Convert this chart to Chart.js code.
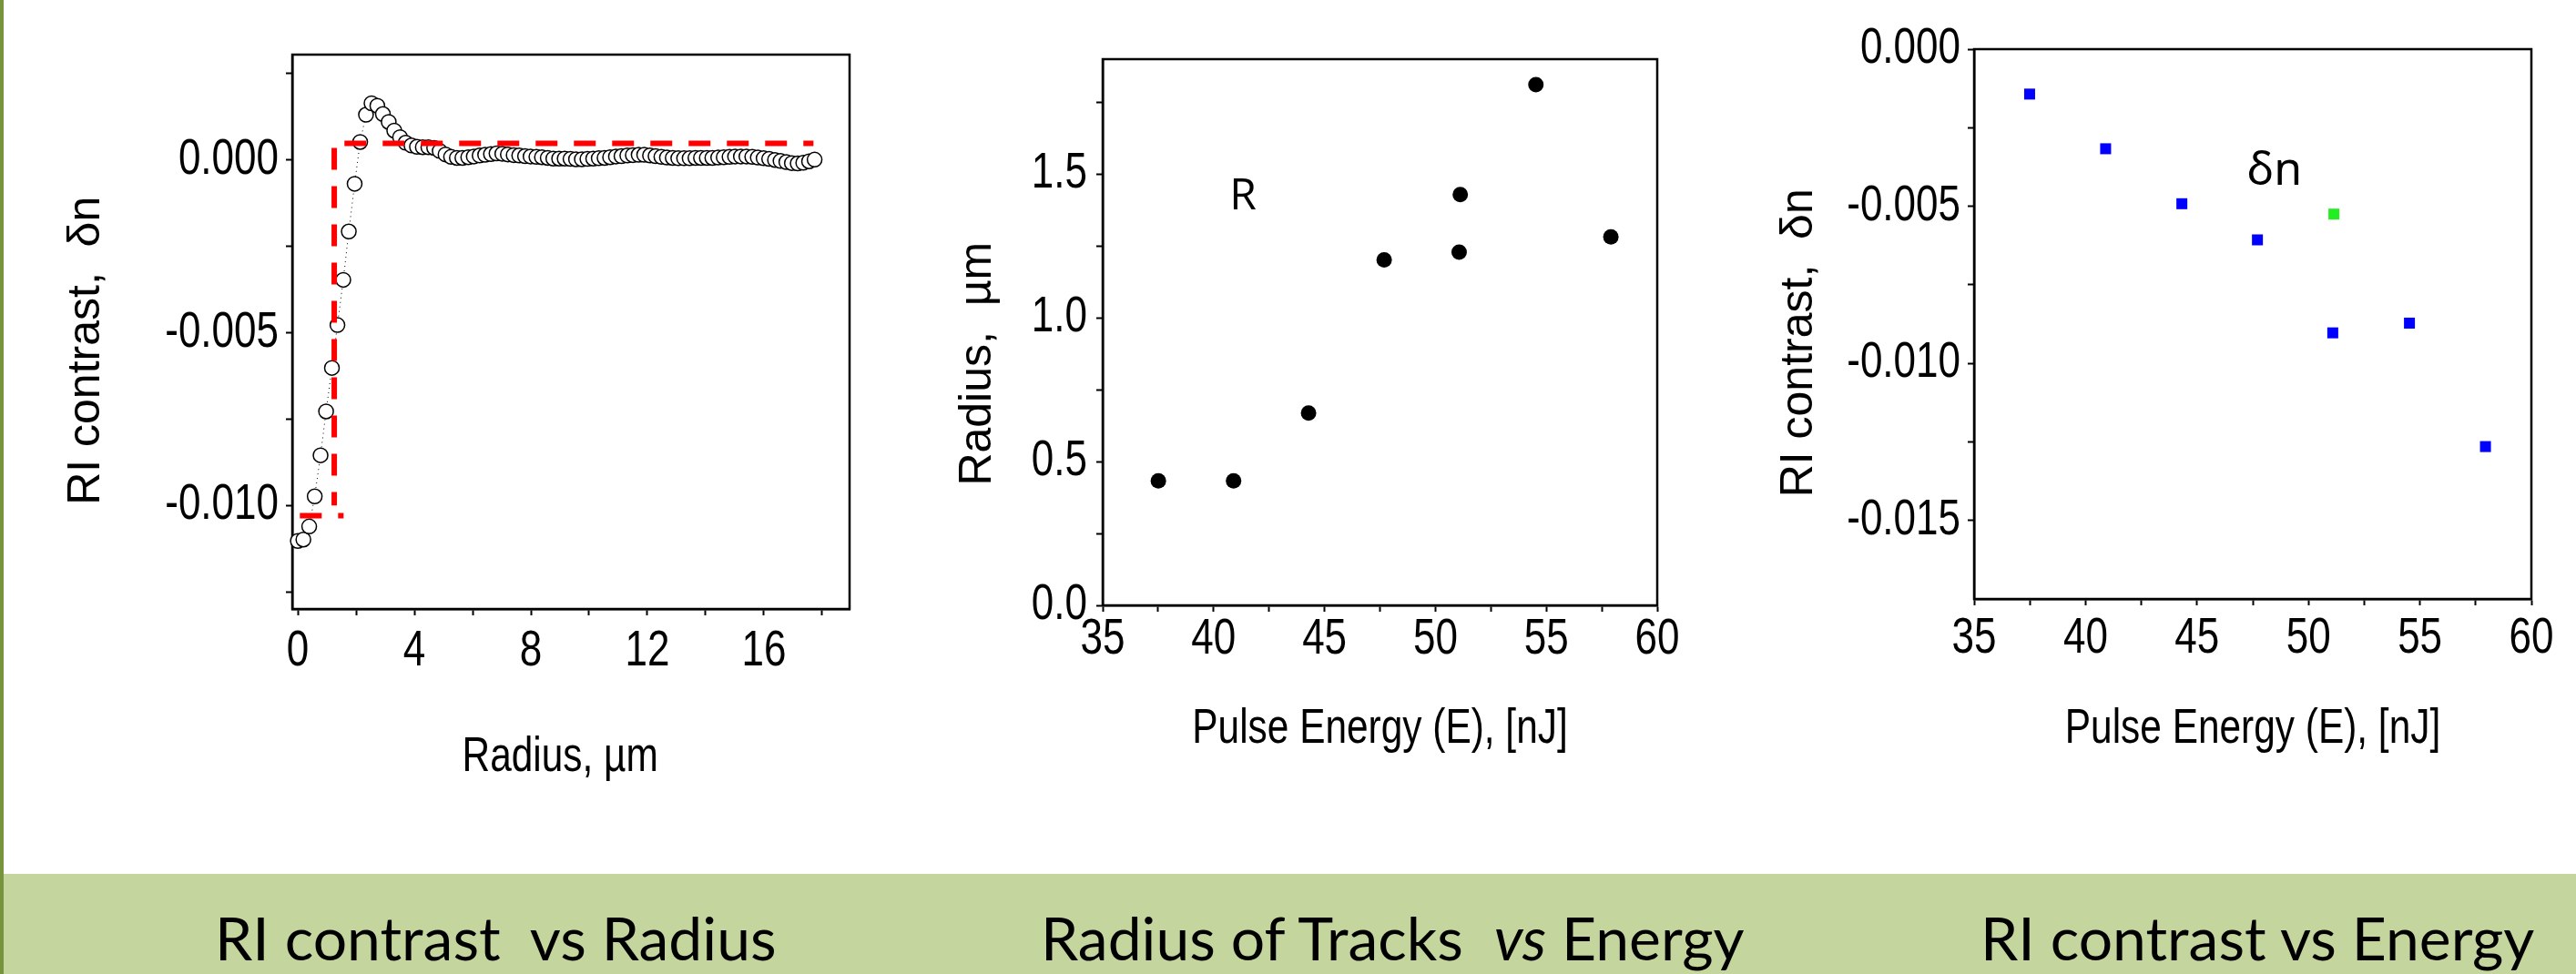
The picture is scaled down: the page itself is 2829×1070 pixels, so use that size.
<!DOCTYPE html>
<html>
<head>
<meta charset="utf-8">
<script src="https://cdn.jsdelivr.net/npm/chart.js@4.4.1/dist/chart.umd.min.js"></script>
<style>
  html, body { margin: 0; padding: 0; background: #fff; }
  body { width: 2829px; height: 1070px; position: relative; overflow: hidden; }
  canvas { position: absolute; top: 0; }
  #c1 { left: 0; }
  #c2 { left: 950px; }
  #c3 { left: 1900px; }
  .band { position: absolute; left: 0; top: 960px; width: 2829px; height: 110px; background: #c4d69e; }
  .edge { position: absolute; left: 0; top: 0; width: 4px; height: 1070px; background: #77933c; }
  .cap { position: absolute; top: 998px; height: 64px; line-height: 64px; font-family: Lato, 'Open Sans', sans-serif;
         font-size: 66px; color: #000; white-space: pre; }
</style>
</head>
<body>
<canvas id="c1" width="950" height="900"></canvas>
<canvas id="c2" width="950" height="900"></canvas>
<canvas id="c3" width="929" height="900"></canvas>
<div class="band"></div>
<div class="edge"></div>
<div class="cap" style="left:236px">RI contrast  vs Radius</div>
<div class="cap" style="left:1143px">Radius of Tracks  <i>vs</i> Energy</div>
<div class="cap" style="left:2175px">RI contrast vs Energy</div>
<script>
// --- RI contrast vs Radius (perfil) ---
const radius1 = [0.00, 0.19, 0.39, 0.58, 0.78, 0.97, 1.17, 1.36, 1.56, 1.75, 1.95, 2.14, 2.34, 2.53, 2.73, 2.92,
  3.12, 3.31, 3.51, 3.70, 3.90, 4.09, 4.29, 4.48, 4.68, 4.87, 5.07, 5.26, 5.46, 5.65, 5.85, 6.04, 6.24, 6.43,
  6.63, 6.82, 7.02, 7.21, 7.41, 7.60, 7.80, 7.99, 8.19, 8.38, 8.58, 8.77, 8.97, 9.16, 9.36, 9.55, 9.75, 9.94,
  10.14, 10.33, 10.53, 10.72, 10.92, 11.11, 11.31, 11.50, 11.70, 11.89, 12.09, 12.28, 12.48, 12.67, 12.87,
  13.06, 13.26, 13.45, 13.65, 13.84, 14.04, 14.23, 14.43, 14.62, 14.82, 15.01, 15.21, 15.40, 15.60, 15.79,
  15.99, 16.18, 16.38, 16.57, 16.77, 16.96, 17.16, 17.35, 17.55, 17.74];
const deltaN1 = [-0.01103, -0.01099, -0.01061, -0.00974, -0.00855, -0.00728, -0.00602, -0.00478, -0.00347,
  -0.00207, -0.00069, 0.00052, 0.00131, 0.00164, 0.00157, 0.00133, 0.00110, 0.00085, 0.00066, 0.00050,
  0.00042, 0.00038, 0.00037, 0.00037, 0.00035, 0.00026, 0.00016, 0.00009, 0.00006, 0.00006, 0.00008,
  0.00010, 0.00013, 0.00015, 0.00017, 0.00019, 0.00018, 0.00016, 0.00014, 0.00013, 0.00011, 0.00010,
  0.00009, 0.00008, 0.00006, 0.00004, 0.00004, 0.00004, 0.00003, 0.00002, 0.00002, 0.00003, 0.00004,
  0.00005, 0.00006, 0.00008, 0.00010, 0.00011, 0.00013, 0.00014, 0.00015, 0.00015, 0.00013, 0.00011,
  0.00009, 0.00007, 0.00006, 0.00005, 0.00005, 0.00005, 0.00006, 0.00006, 0.00006, 0.00006, 0.00007,
  0.00008, 0.00009, 0.00010, 0.00010, 0.00010, 0.00009, 0.00007, 0.00005, 0.00003, 0.00000, -0.00003,
  -0.00006, -0.00009, -0.00010, -0.00008, -0.00004, 0.00001];
// perfil escalonado (línea roja)
const stepLowX = [0.07, 1.57];
const stepLowY = [-0.0103, -0.0103];
const stepEdgeX = [1.25, 1.25];
const stepEdgeY = [0.00035, -0.0100];
const stepHighX = [1.60, 17.70];
const stepHighY = [0.00048, 0.00048];
const xTicks1 = [0, 2, 4, 6, 8, 10, 12, 14, 16, 18];
const xLabels1 = [0, 4, 8, 12, 16];
const yTicks1 = [-0.0125, -0.01, -0.0075, -0.005, -0.0025, 0, 0.0025];
const yLabels1 = [-0.01, -0.005, 0];

// --- Radio de las trazas vs energía ---
const energy2 = [37.51, 40.90, 44.28, 47.69, 51.07, 51.12, 54.53, 57.91];
const radius2 = [0.433, 0.433, 0.669, 1.202, 1.229, 1.429, 1.811, 1.282];
const xTicksE = [35, 37.5, 40, 42.5, 45, 47.5, 50, 52.5, 55, 57.5, 60];
const xLabelsE = [35, 40, 45, 50, 55, 60];
const yTicks2 = [0, 0.25, 0.5, 0.75, 1, 1.25, 1.5, 1.75];
const yLabels2 = [0, 0.5, 1, 1.5];

// --- RI contrast vs energía ---
const energy3 = [37.49, 40.90, 44.32, 47.71, 51.09, 54.53, 57.94];
const deltaN3 = [-0.00143, -0.00317, -0.00492, -0.00607, -0.00903, -0.00872, -0.01265];
const energy3b = [51.14];
const deltaN3b = [-0.00525];
const yTicks3 = [0, -0.0025, -0.005, -0.0075, -0.01, -0.0125, -0.015];
const yLabels3 = [0, -0.005, -0.01, -0.015];

const NARROW = "'Liberation Sans Narrow', 'Liberation Sans', sans-serif";
const REGULAR = "'Liberation Sans', Arial, sans-serif";
Chart.defaults.font.family = NARROW;
Chart.defaults.color = '#000';

const toPts = (xs, ys) => xs.map((x, i) => ({ x: x, y: ys[i] }));

// la fuente estrecha no está instalada: se comprime el texto "Narrow" al dibujarlo
const narrowPlugin = {
  id: 'narrow',
  beforeDraw(chart) {
    const ctx = chart.ctx;
    if (ctx._narrow) return;
    ctx._narrow = true;
    const fill = ctx.fillText;
    ctx.fillText = function (text, x, y, maxWidth) {
      if (this.font.indexOf('Narrow') >= 0) {
        const w = this.measureText(text).width * 0.8;
        maxWidth = maxWidth === undefined ? w : Math.min(maxWidth, w);
      }
      if (maxWidth === undefined) return fill.call(this, text, x, y);
      return fill.call(this, text, x, y, maxWidth);
    };
  }
};

// marco completo alrededor del área del gráfico
const framePlugin = {
  id: 'frame',
  beforeDatasetsDraw(chart) {
    const { ctx, chartArea: a } = chart;
    ctx.save();
    ctx.strokeStyle = '#000';
    ctx.lineWidth = 2.5;
    ctx.strokeRect(a.left, a.top, a.right - a.left, a.bottom - a.top);
    ctx.restore();
  }
};

// etiqueta de texto dentro del gráfico ("R", "δn")
const notePlugin = {
  id: 'note',
  afterDatasetsDraw(chart, args, opts) {
    if (!opts.text) return;
    const { ctx, scales } = chart;
    ctx.save();
    ctx.font = opts.font;
    ctx.fillStyle = '#000';
    ctx.textAlign = 'center';
    ctx.textBaseline = 'middle';
    ctx.fillText(opts.text, scales.x.getPixelForValue(opts.x), scales.y.getPixelForValue(opts.y));
    ctx.restore();
  }
};

function makeAxis(c) {
  return {
    type: 'linear',
    position: c.position,
    min: c.min,
    max: c.max,
    afterBuildTicks: s => { s.ticks = c.ticks.map(v => ({ value: v })); },
    afterFit: s => { if (c.position === 'left') s.width = c.size; else s.height = c.size; },
    grid: { drawOnChartArea: false, drawTicks: true, tickLength: 7, tickWidth: 2, tickColor: '#000' },
    border: { display: true, color: '#000', width: 2.5 },
    ticks: {
      padding: c.pad,
      autoSkip: false,
      maxRotation: 0,
      color: '#000',
      font: { family: NARROW, size: 55 },
      callback: v => c.labels.some(l => Math.abs(l - v) < 1e-9) ? v.toFixed(c.digits) : ''
    },
    title: {
      display: true,
      text: c.title,
      color: '#000',
      font: c.position === 'left' ? { family: REGULAR, size: 50 } : { family: NARROW, size: 53 },
      padding: c.position === 'left' ? { top: c.titlePad, bottom: 0 } : { top: 0, bottom: c.titlePad }
    }
  };
}

function baseOptions(pad, xAxis, yAxis, note) {
  return {
    responsive: false,
    animation: false,
    devicePixelRatio: 1,
    layout: { padding: pad },
    plugins: { legend: { display: false }, tooltip: { enabled: false }, note: note || {} },
    scales: { x: xAxis, y: yAxis }
  };
}

const redLine = { showLine: true, borderColor: '#ff0000', borderWidth: 6, borderDash: [24, 18], pointRadius: 0, clip: false };

new Chart(document.getElementById('c1'), {
  type: 'scatter',
  data: {
    datasets: [
      Object.assign({ data: toPts(stepLowX, stepLowY) }, redLine),
      Object.assign({ data: toPts(stepEdgeX, stepEdgeY) }, redLine),
      Object.assign({ data: toPts(stepHighX, stepHighY) }, redLine),
      {
        data: toPts(radius1, deltaN1),
        showLine: true,
        borderColor: '#000',
        borderWidth: 1,
        borderDash: [1, 4],
        pointRadius: 8,
        pointBackgroundColor: '#fff',
        pointBorderColor: '#000',
        pointBorderWidth: 1.5,
        clip: false
      }
    ]
  },
  options: baseOptions({ top: 60, right: 17, bottom: 0, left: 0 },
    makeAxis({ position: 'bottom', min: -0.19, max: 18.94, ticks: xTicks1, labels: xLabels1, digits: 0,
      size: 231, pad: 7, title: 'Radius, µm  ', titlePad: 36 }),
    makeAxis({ position: 'left', min: -0.013, max: 0.00305, ticks: yTicks1, labels: yLabels1, digits: 3,
      size: 321, pad: 8, title: 'RI contrast,  δn   ', titlePad: 65 })),
  plugins: [narrowPlugin, framePlugin, notePlugin]
});

new Chart(document.getElementById('c2'), {
  type: 'scatter',
  data: {
    datasets: [{
      data: toPts(energy2, radius2),
      pointRadius: 8.5,
      pointBackgroundColor: '#000',
      pointBorderColor: '#000',
      pointBorderWidth: 0
    }]
  },
  options: baseOptions({ top: 65, right: 80, bottom: 0, left: 0 },
    makeAxis({ position: 'bottom', min: 35, max: 60, ticks: xTicksE, labels: xLabelsE, digits: 0,
      size: 235, pad: -2, title: 'Pulse Energy (E), [nJ]', titlePad: 67 }),
    makeAxis({ position: 'left', min: 0, max: 1.9, ticks: yTicks2, labels: yLabels2, digits: 1,
      size: 261, pad: 10, title: 'Radius,  µm     ', titlePad: 94 }),
    { text: 'R', x: 41.32, y: 1.42, font: "48px 'Open Sans', sans-serif" }),
  plugins: [narrowPlugin, framePlugin, notePlugin]
});

new Chart(document.getElementById('c3'), {
  type: 'scatter',
  data: {
    datasets: [
      {
        data: toPts(energy3b, deltaN3b),
        pointStyle: 'rect',
        pointRadius: 8.5,
        pointBackgroundColor: '#22ee22',
        pointBorderWidth: 0
      },
      {
        data: toPts(energy3, deltaN3),
        pointStyle: 'rect',
        pointRadius: 8.5,
        pointBackgroundColor: '#0000ff',
        pointBorderWidth: 0
      }
    ]
  },
  options: baseOptions({ top: 54, right: 49, bottom: 0, left: 0 },
    makeAxis({ position: 'bottom', min: 35, max: 60, ticks: xTicksE, labels: xLabelsE, digits: 0,
      size: 242, pad: 4, title: 'Pulse Energy (E), [nJ]', titlePad: 67 }),
    makeAxis({ position: 'left', min: -0.0175, max: 0, ticks: yTicks3, labels: yLabels3, digits: 3,
      size: 268, pad: 8, title: 'RI contrast,  δn   ', titlePad: 46 }),
    { text: 'δn', x: 48.48, y: -0.0039, font: "50px 'Noto Sans', sans-serif" }),
  plugins: [narrowPlugin, framePlugin, notePlugin]
});
</script>
</body>
</html>
